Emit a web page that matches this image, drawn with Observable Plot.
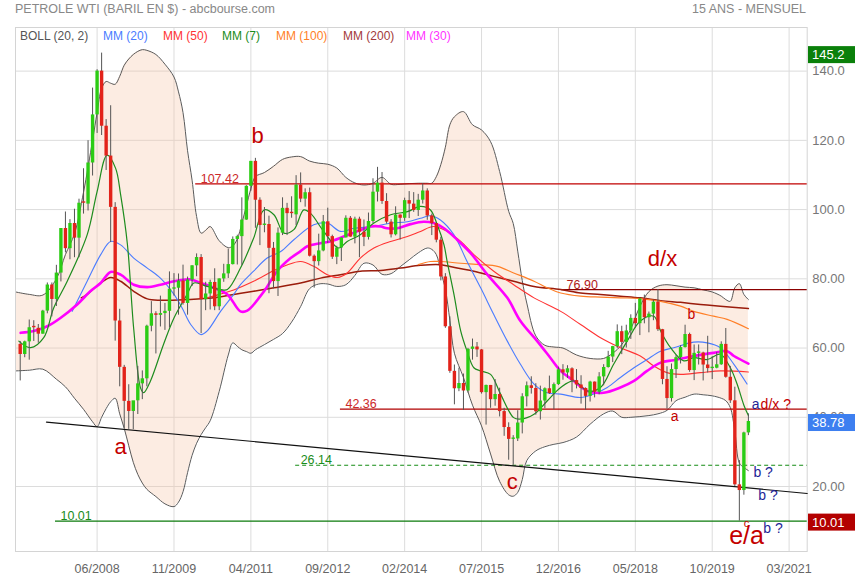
<!DOCTYPE html>
<html><head><meta charset="utf-8">
<script src="https://cdn.jsdelivr.net/npm/d3@7"></script>
<script src="https://cdn.jsdelivr.net/npm/@observablehq/plot@0.6"></script>
<style>
html,body{margin:0;padding:0;background:#fff;}
#chart{width:855px;height:580px;}
</style></head><body><div id="chart"></div>
<script>
// month index 0 = Jan 2007 ... 161 = Jun 2020
const opens = [61.05,58.14,61.79,65.87,65.71,64.01,70.68,78.21,74.04,81.66,94.53,88.71,
95.98,91.75,101.84,101.58,113.46,127.35,140.00,124.08,115.46,100.64,67.81,54.43,
44.60,41.68,44.76,49.66,51.12,66.31,69.89,69.45,69.96,70.61,77.00,77.28,
79.36,72.89,79.66,83.76,86.15,73.97,75.63,78.95,71.92,79.97,81.43,84.11,
91.38,92.19,96.97,106.72,113.93,102.70,95.42,95.70,88.81,79.20,93.19,100.36,
98.83,98.48,107.07,103.02,104.87,86.53,84.96,88.06,96.47,92.19,86.24,88.91,
91.82,97.49,92.05,97.23,93.46,91.97,96.56,105.03,107.65,102.33,96.38,92.72,
98.42,97.49,102.59,101.58,99.74,102.71,105.37,98.17,95.96,91.16,80.54,66.15,
53.27,48.24,49.76,47.60,59.63,60.30,59.47,47.12,49.20,45.09,46.59,41.65,
37.04,33.62,33.75,38.34,45.92,49.10,48.33,41.60,44.70,48.24,46.86,49.44,
53.72,52.81,54.01,50.60,49.33,48.32,46.04,50.17,47.23,51.67,54.38,57.40,
60.42,64.73,61.64,64.94,68.57,67.04,74.15,68.76,69.80,73.25,65.31,50.93,
45.41,53.79,57.22,60.14,63.91,53.50,58.47,58.58,55.10,54.07,54.18,55.17,
61.06,51.56,44.76,20.48,18.84,35.49];
const highs = [61.9,62.0,68.1,67.9,66.8,70.9,78.8,78.8,83.9,94.5,99.3,97.1,
100.1,103.0,111.8,119.9,135.1,140.4,145.2,126.0,130.0,102.0,71.2,55.0,
49.4,43.9,54.7,53.4,66.6,73.4,70.5,75.0,72.9,82.0,81.5,81.4,
83.95,80.5,83.8,87.2,87.0,79.0,79.6,82.9,80.0,84.2,88.6,92.1,
92.6,103.4,106.9,113.9,114.8,103.4,100.6,98.1,90.5,94.7,103.4,101.8,
103.7,109.8,110.6,106.0,106.2,86.9,92.9,98.3,100.4,92.6,89.4,91.8,
98.2,98.0,97.8,97.8,97.0,99.0,108.9,112.2,110.7,104.6,97.1,100.8,
98.5,103.3,105.2,104.9,104.4,107.4,106.0,98.7,96.0,92.0,81.5,69.0,
55.1,54.2,52.5,59.9,62.6,61.6,59.6,49.3,49.2,50.9,48.4,42.6,
38.4,34.7,41.9,46.8,50.2,51.7,49.7,49.0,48.5,51.9,49.9,54.5,
55.2,54.9,54.3,53.8,52.0,48.5,50.4,50.2,52.9,55.2,59.05,60.5,
66.7,66.3,66.6,69.6,72.9,74.5,75.3,70.4,73.8,76.90,65.4,54.6,
55.4,57.8,60.7,66.6,64.3,60.9,60.9,58.8,63.4,57.5,58.7,61.8,
65.65,54.7,48.7,27.5,35.7,41.0];
const lows = [50.5,57.2,56.5,61.9,61.4,64.0,69.9,69.0,72.0,79.1,87.5,85.5,
86.1,86.1,98.7,99.6,109.7,122.0,121.4,111.3,90.5,62.0,48.8,36.8,
36.5,36.4,40.8,45.1,48.8,64.7,58.3,66.1,65.1,65.8,75.0,69.5,
72.4,69.5,77.8,80.6,64.2,70.8,71.0,70.8,70.8,79.0,80.1,84.0,
84.0,83.9,96.9,105.3,94.6,89.6,93.3,75.7,77.1,74.9,92.5,92.5,
97.5,95.4,102.0,100.7,86.3,77.3,83.7,87.8,90.2,85.6,84.1,85.0,
91.8,92.0,90.1,86.1,89.3,91.2,96.0,102.2,101.5,95.8,91.8,92.4,
91.2,96.6,97.4,99.2,98.0,101.6,96.9,92.5,90.4,79.4,65.7,52.7,
43.6,47.4,42.0,47.0,56.5,57.3,46.7,37.75,42.6,43.2,40.1,34.5,
27.6,26.14,33.0,35.2,43.0,46.7,40.6,39.2,42.5,46.6,42.2,49.2,
50.7,51.2,47.1,48.2,43.8,42.1,44.4,45.6,46.5,49.1,54.2,55.8,
59.9,58.1,60.0,62.5,65.8,63.6,67.0,64.4,67.9,64.8,49.4,42.36,
44.4,51.2,55.4,60.0,53.0,50.6,55.1,50.5,52.8,50.9,54.0,55.0,
51.3,44.0,20.0,10.01,17.5,34.7];
const closes = [58.14,61.79,65.87,65.71,64.01,70.68,78.21,74.04,81.66,94.53,88.71,95.98,
91.75,101.84,101.58,113.46,127.35,140.00,124.08,115.46,100.64,67.81,54.43,44.60,
41.68,44.76,49.66,51.12,66.31,69.89,69.45,69.96,70.61,77.00,77.28,79.36,
72.89,79.66,83.76,86.15,73.97,75.63,78.95,71.92,79.97,81.43,84.11,91.38,
92.19,96.97,106.72,113.93,102.70,95.42,95.70,88.81,79.20,93.19,100.36,98.83,
98.48,107.07,103.02,104.87,86.53,84.96,88.06,96.47,92.19,86.24,88.91,91.82,
97.49,92.05,97.23,93.46,91.97,96.56,105.03,107.65,102.33,96.38,92.72,98.42,
97.49,102.59,101.58,99.74,102.71,105.37,98.17,95.96,91.16,80.54,66.15,53.27,
48.24,49.76,47.60,59.63,60.30,59.47,47.12,49.20,45.09,46.59,41.65,37.04,
33.62,33.75,38.34,45.92,49.10,48.33,41.60,44.70,48.24,46.86,49.44,53.72,
52.81,54.01,50.60,49.33,48.32,46.04,50.17,47.23,51.67,54.38,57.40,60.42,
64.73,61.64,64.94,68.57,67.04,74.15,68.76,69.80,73.25,65.31,50.93,45.41,
53.79,57.22,60.14,63.91,53.50,58.47,58.58,55.10,54.07,54.18,55.17,61.06,
51.56,44.76,20.48,18.84,35.49,38.78];

const tickIndex = [17,34,51,68,85,102,119,136,153,170];
const tickLabels = ["06/2008","11/2009","04/2011","09/2012","02/2014","07/2015","12/2016","05/2018","10/2019","03/2021"];
const yTicks = [20,40,60,80,100,120,140];

// Bollinger (20,2)
const bandIdx = [-1,2,5,8,10,12,14,16,17,18,19,20,21,22,23,24,25,26,27,28,30,32,34,35,36,37,38,39,40,41,42,44,46,47,48,49,50,51,52,54,56,58,60,62,64,66,68,70,72,74,76,78,80,82,84,86,88,90,91,92,93,94,95,96,98,100,102,104,106,108,109,110,111,112,114,116,118,120,123,126,129,131,133,135,137,139,141,143,145,147,149,151,153,155,156,157,158,159,160,161];
const bandUpper = [76.2,75.5,75.3,80.0,87.0,93.0,105.0,120.0,128.0,135.0,137.0,136.5,136.2,138.5,141.7,143.5,144.8,145.7,146.2,146.0,144.8,142.0,138.3,134.0,128.0,117.0,108.5,98.0,93.2,94.0,95.1,91.0,89.0,89.5,91.5,96.0,101.0,106.0,109.5,110.7,112.5,114.5,115.2,115.3,114.0,113.4,113.1,112.0,109.3,107.7,107.1,107.6,109.3,107.3,107.3,107.5,107.6,107.6,107.6,109.5,113.0,118.0,124.5,126.8,128.3,124.5,123.0,119.6,111.0,99.5,96.0,88.0,79.5,73.0,63.5,60.8,60.3,60.0,58.0,57.0,57.0,58.5,61.0,65.5,72.0,76.3,77.9,78.3,78.0,77.6,77.4,76.8,76.2,75.0,74.0,73.5,77.4,78.6,75.5,74.0];
const bandLower = [53.4,53.6,53.9,51.0,48.8,45.5,42.3,38.7,37.3,40.0,42.5,44.5,45.5,41.0,36.8,31.8,27.0,23.5,21.0,19.2,17.1,15.0,14.2,15.5,18.5,24.0,29.0,32.5,35.0,37.0,39.0,47.5,58.0,61.5,60.5,59.5,59.0,58.5,59.5,61.0,62.5,64.2,67.5,72.0,77.2,78.5,78.5,77.8,78.3,81.0,84.5,84.0,81.3,81.5,83.5,85.5,87.5,88.9,88.5,87.0,82.0,77.0,68.0,58.5,51.5,43.5,37.5,29.4,21.5,17.6,17.2,18.3,22.0,27.5,30.3,31.5,32.2,32.7,34.3,38.0,41.0,41.8,40.0,40.0,40.2,40.5,41.0,42.0,44.8,45.8,46.7,46.5,46.2,45.5,44.8,42.8,36.0,26.8,25.5,24.6];

// moving averages: [month index, value]
const mm7 = [[-0.3,62.0],[2.3,60.1],[5.2,63.0],[7.4,71.6],[10.4,79.3],[14.8,92.7],[17,105.2],[19.2,115.7],[21.1,111.9],[22.2,104.3],[23.7,90],[25.1,65.5],[26.6,48.5],[27.3,47.1],[28.8,50.5],[31.7,61.1],[34,68.7],[36.9,75.5],[38.4,78.8],[41.3,77.8],[44.3,76.9],[45.8,76.9],[48.7,83.1],[51.6,91.7],[53.9,99.9],[56.1,98.5],[58.3,93.2],[60.5,94.2],[62.7,99.9],[64.2,98.9],[67.1,93.7],[70.4,88.9],[72.3,90.8],[75.2,92.7],[78.2,96.1],[81.9,98.5],[85.6,99.4],[88.5,100.9],[90.7,99.9],[92.2,95.6],[93.7,89.8],[94.4,85.0],[95.9,75.5],[97.4,64.9],[98.8,59.1],[100.3,54.3],[101.8,53.4],[104,52.4],[106.2,46.7],[109.1,39.9],[110.6,39.5],[113.6,40.9],[116.5,44.7],[119.5,48.6],[122.4,50.5],[125.4,47.6],[128.3,48.6],[131.2,55.3],[134.2,62.0],[137.1,67.8],[140.1,69.2],[141.6,64.9],[143.8,60.1],[146.7,56.3],[148.9,57.2],[151.9,56.7],[154.8,58.2],[157,54.3],[158.5,49.6],[160,43.5],[161,40.5]];
const mm20 = [[11.5,70.6],[14.8,79.3],[17.8,87.0],[20,90.8],[22.2,89.8],[25.1,86.0],[28.1,83.1],[31,80.2],[34,75.5],[35.8,71.6],[37.7,66.8],[39.9,63.9],[41.3,64.9],[44.3,70.6],[47.2,75.5],[48.7,78.3],[51.6,82.2],[54.6,86.0],[57.6,87.9],[60.5,91.3],[64.9,95.6],[67.9,96.1],[70.8,93.7],[73.8,94.6],[78.2,95.1],[81.9,96.1],[85.6,96.5],[88.5,97.5],[90.7,98.2],[92.9,97.0],[95.9,92.7],[98.8,85.0],[101.8,77.4],[104.7,69.7],[107.7,62.0],[110.6,55.3],[113.6,49.6],[116.5,47.1],[119.5,46.7],[123.9,45.7],[126.8,46.7],[129.8,48.6],[132.7,51.5],[135.7,54.3],[138.6,56.7],[141.6,59.1],[144.5,60.1],[148.9,61.7],[151.9,61.5],[154.8,60.1],[157.8,55.3],[160.7,49.6]];
const mm30 = [[0.1,64.4],[3,64.9],[6,66.3],[8.9,68.7],[12.6,72.6],[15.5,76.4],[17.8,78.8],[20,82.0],[22.2,81.2],[25.1,78.3],[28.1,77.6],[31,78.3],[34,79.3],[37.7,79.8],[39.9,78.8],[42.8,77.4],[45.8,75.5],[48.7,70.6],[50.2,70.8],[53.1,75.0],[54.5,77.5],[56.8,82.2],[59.8,86.0],[62.0,88.0],[63.5,89.4],[66.4,90.3],[68.6,90.8],[71.5,92.2],[74.5,93.7],[77.5,95.1],[79.7,95.1],[81.1,94.6],[83.4,94.6],[86.3,95.8],[89.2,96.5],[91.4,96.1],[93.7,94.6],[96.6,91.3],[99.6,87.4],[103.3,81.2],[107.7,74.5],[110.6,67.8],[114.3,62.0],[117.2,57.2],[119.5,53.4],[122.4,50.5],[125.4,47.6],[129,47.1],[132.7,48.6],[135.7,50.5],[138.6,53.4],[141.6,55.8],[144.5,56.5],[148.9,57.7],[153.3,58.6],[156.3,59.1],[157.8,57.7],[161,55.5]];
const mm50 = [[41.3,74.5],[44,75.5],[47.2,76.8],[51.6,79.3],[56.1,82.4],[59,84.0],[62,85.0],[64.9,83.6],[67.9,81.2],[70.1,80.4],[72.3,81.7],[75.2,86.0],[78.2,88.9],[81.9,90.8],[85.6,92.2],[88.5,93.7],[91.4,95.1],[94.4,93.7],[97.4,90.8],[100.3,87.0],[104.7,82.2],[109.1,78.3],[113.6,74.5],[119.5,70.6],[123.9,66.8],[128.3,63.0],[132.7,60.1],[137.1,57.7],[140.1,54.8],[143,52.9],[146,52.4],[150.4,52.9],[154.8,53.4],[161,53.1]];
const mm100 = [[88,84.1],[90.7,85.0],[92.9,85.0],[97.4,84.5],[101.8,84.1],[105.5,83.6],[109.1,81.7],[113.6,79.3],[116.5,77.4],[119.5,75.9],[123.9,75.0],[128.3,74.7],[132.7,74.5],[137.1,74.3],[141.6,73.5],[146,72.1],[148.9,70.6],[153.3,69.2],[156.3,68.3],[161,65.6]];
const mm200 = [[13.5,74.5],[14.8,75.5],[17.8,78.8],[20,80.4],[22.2,79.3],[25.1,76.4],[28.1,74.2],[31,73.8],[36.9,74.0],[42.8,74.5],[47.2,75.5],[51.6,76.4],[56.1,77.4],[62,78.8],[66.4,80.2],[70.8,81.2],[75.2,82.2],[79.7,82.4],[84.1,83.1],[88.5,83.9],[92.9,84.1],[96.6,83.1],[100.3,82.2],[104.7,80.7],[109.1,79.3],[113.6,77.8],[119.5,76.9],[123.9,75.9],[128.3,75.5],[132.7,75.0],[137.1,74.5],[141.6,73.7],[146,73.2],[150.4,72.6],[154.8,72.1],[161,71.4]];

// horizontal reference levels: value, first month index
const refValues = [107.42, 76.90, 42.36, 26.14, 10.01];
const refStart = [38.8, 119.7, 70.8, 60.9, 7.8];
const refLabels = ["107.42","76.90","42.36","26.14","10.01"];
// support trend line [month index, value]
const trendLine = [[5.8,38.6],[174.0,18.0]];

// wave annotations [text, month index, value]
const bigRed = [["b",52.5,121.4],["a",22.2,31.3],["c",108.8,21.2],["d/x",142.0,85.8]];
const eaLabel = [["e/a",160.6,5.6]];
const smallRed = [["b",148.4,69.7],["a",144.7,40.2]];
const dxLabel = [["d/x ?",163.7,43.7]];
const navyA = [["a",162.6,43.7]];
const navyB = [["b ?",162.1,24.1],["b ?",163.2,17.4],["b ?",164.3,8.0]];
const tinyRed = [["c",160.6,9.4]];

const legendItems = ["BOLL (20, 2)","MM (20)","MM (50)","MM (7)","MM (100)","MM (200)","MM (30)"];
const legendColors = ["#555555","#4a7cff","#ff3333","#1a8c1a","#ff7f27","#a33a3a","#ff33ff"];
const legendX = [20,103,163,222,276,343,406];

const lastValues = [145.2, 38.78, 10.01];
const lastColors = ["#0a800a","#3d7ff0","#b30000"];

const FONT = "Liberation Sans, Arial, Helvetica, sans-serif";
const candles = opens.map((o,i)=>({i, o, h: highs[i], l: lows[i], c: closes[i]}));
const band = bandIdx.map((i,k)=>({i, hi: bandUpper[k], lo: bandLower[k]}));
const pts = a => a.map(([i,v])=>({i,v}));
const refs = refValues.map((v,k)=>({v, from: refStart[k], label: refLabels[k], k}));
const refColors = ["#c00000","#8b0000","#b00000","#148c14","#0b7a0b"];
const refTextColors = ["#cc2a2a","#b02020","#cc2a2a","#1a8c1a","#1a8c1a"];
const lbl = a => a.map(([t,i,v])=>({t,i,v}));
const XMAX = 174.0;

const chart = Plot.plot({
  width: 855, height: 580,
  marginLeft: 15, marginRight: 48.3, marginTop: 27, marginBottom: 29,
  x: {type: "linear", domain: [-1.04, XMAX]},
  y: {domain: [1.23, 152.6]},
  style: {fontFamily: FONT, fontSize: "12px", background: "#fff", overflow: "visible"},
  marks: [
    Plot.gridY(yTicks, {stroke: "#dcdcdc", strokeOpacity: 1}),
    Plot.gridX(tickIndex, {stroke: "#dcdcdc", strokeOpacity: 1}),
    Plot.areaY(band, {x: "i", y1: "lo", y2: "hi", fill: "#f5c4a6", fillOpacity: 0.33, curve: "catmull-rom"}),
    Plot.line(band, {x: "i", y: "hi", stroke: "#5a5a5a", strokeWidth: 1, curve: "catmull-rom"}),
    Plot.line(band, {x: "i", y: "lo", stroke: "#5a5a5a", strokeWidth: 1, curve: "catmull-rom"}),
    Plot.frame({stroke: "#d4d4d4"}),
    Plot.ruleY(refs.filter(d => d.k !== 3), {y: "v", x1: "from", x2: () => XMAX, stroke: d => refColors[d.k], strokeWidth: 1.2}),
    Plot.ruleY(refs.filter(d => d.k === 3), {y: "v", x1: "from", x2: () => XMAX, stroke: d => refColors[d.k], strokeWidth: 1.2, strokeDasharray: "4,3"}),
    Plot.text(refs, {x: "from", y: "v", text: "label", fill: d => refTextColors[d.k],
      textAnchor: "start", lineAnchor: "bottom", dx: 5, dy: -1, fontSize: 12.5}),
    Plot.line(pts(trendLine), {x: "i", y: "v", stroke: "#111", strokeWidth: 1.1}),
    Plot.line(pts(mm200), {x: "i", y: "v", stroke: "#9a1c0c", strokeWidth: 1.5, curve: "catmull-rom"}),
    Plot.line(pts(mm100), {x: "i", y: "v", stroke: "#ff7f27", strokeWidth: 1.2, curve: "catmull-rom"}),
    Plot.line(pts(mm50), {x: "i", y: "v", stroke: "#ff3333", strokeWidth: 1.1, curve: "catmull-rom"}),
    Plot.line(pts(mm20), {x: "i", y: "v", stroke: "#4a7cff", strokeWidth: 1.1, curve: "catmull-rom"}),
    Plot.line(pts(mm30), {x: "i", y: "v", stroke: "#ff00ff", strokeWidth: 2.6, curve: "catmull-rom"}),
    Plot.line(pts(mm7), {x: "i", y: "v", stroke: "#1e8c1e", strokeWidth: 1.2, curve: "catmull-rom"}),
    Plot.ruleX(candles, {x: "i", y1: "l", y2: "h", stroke: "#555", strokeWidth: 1}),
    Plot.ruleX(candles, {x: "i", y1: "o", y2: d => Math.abs(d.c - d.o) < 0.4 ? d.o + 0.4 : d.c,
      stroke: d => d.c >= d.o ? "#2ccc14" : "#e2231a", strokeWidth: 3.4}),
    Plot.text(lbl(bigRed), {x: "i", y: "v", text: "t", fill: "#c40000", fontSize: 22, textAnchor: "middle", lineAnchor: "middle"}),
    Plot.text(lbl(eaLabel), {x: "i", y: "v", text: "t", fill: "#c40000", fontSize: 25, textAnchor: "middle", lineAnchor: "middle"}),
    Plot.text(lbl(smallRed), {x: "i", y: "v", text: "t", fill: "#c40000", fontSize: 14, textAnchor: "middle", lineAnchor: "middle"}),
    Plot.text(lbl(dxLabel), {x: "i", y: "v", text: "t", fill: "#c40000", fontSize: 14, textAnchor: "start", lineAnchor: "middle"}),
    Plot.text(lbl(navyA), {x: "i", y: "v", text: "t", fill: "#1f1f96", fontSize: 14, textAnchor: "middle", lineAnchor: "middle"}),
    Plot.text(lbl(navyB), {x: "i", y: "v", text: "t", fill: "#1f1f96", fontSize: 14, textAnchor: "start", lineAnchor: "middle"}),
    Plot.text(lbl(tinyRed), {x: "i", y: "v", text: "t", fill: "#c40000", fontSize: 11, textAnchor: "middle", lineAnchor: "middle"}),
    Plot.axisY(yTicks, {anchor: "right", tickSize: 0, tickPadding: 5, tickFormat: d => d.toPrecision(4), fill: "#777", fontSize: 13, textAnchor: "start"}),
    Plot.axisX(tickIndex, {anchor: "bottom", tickSize: 0, tickPadding: 13, tickFormat: d => tickLabels[tickIndex.indexOf(d)], fill: "#666", fontSize: 12.5})
  ]
});

const svg = d3.select(chart);
const ys = chart.scale("y");
svg.append("text").attr("x", 15).attr("y", 13).attr("text-anchor", "start").attr("fill", "#888").attr("font-size", 12.5).attr("font-family", FONT)
  .text("PETROLE WTI (BARIL EN $) - abcbourse.com");
svg.append("text").attr("x", 806).attr("y", 13).attr("text-anchor", "end").attr("fill", "#888").attr("font-size", 12.5).attr("font-family", FONT)
  .text("15 ANS - MENSUEL");
legendItems.forEach((t, k) => {
  svg.append("text").attr("x", legendX[k]).attr("y", 40).attr("text-anchor", "start").attr("fill", legendColors[k]).attr("font-size", 12).attr("font-family", FONT).text(t);
});
lastValues.forEach((v, k) => {
  const y = ys.apply(v);
  const yy = k === 0 ? y + 2 : y + 1.5;
  svg.append("rect").attr("x", 808).attr("y", yy - 8.5).attr("width", 47).attr("height", 17).attr("fill", lastColors[k]);
  svg.append("text").attr("x", 812).attr("y", yy).attr("dy", "0.35em").attr("text-anchor", "start").attr("fill", "#fff").attr("font-size", 13).attr("font-family", FONT)
    .text(k === 0 ? v.toFixed(1) : v.toFixed(2));
});
document.getElementById("chart").appendChild(chart);
</script>
</body></html>
